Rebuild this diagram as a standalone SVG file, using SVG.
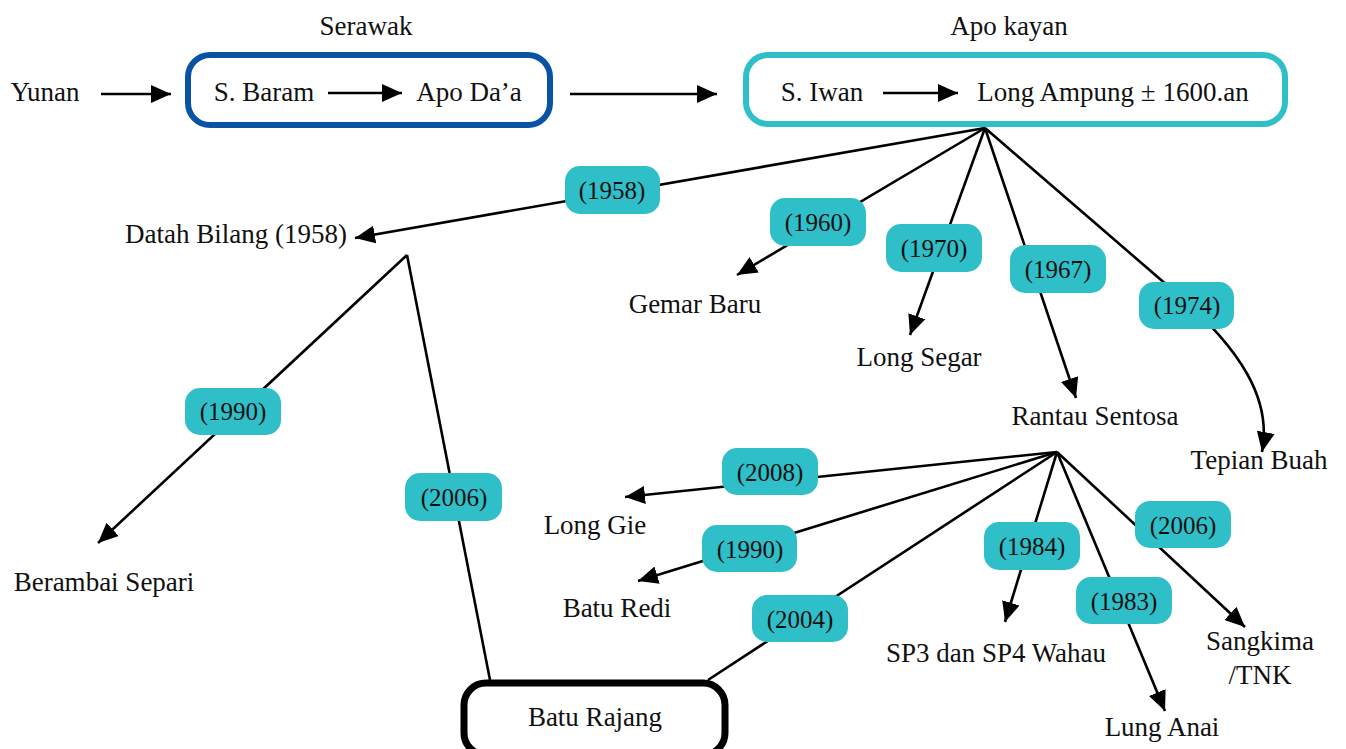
<svg xmlns="http://www.w3.org/2000/svg" width="1346" height="749" viewBox="0 0 1346 749">
  <style>
    text { font-family: "Liberation Serif", "Times New Roman", serif; font-size: 27px; fill: #111; text-anchor: middle; }
    .yr { font-size: 25px; }
    .edge { stroke: #000; stroke-width: 2.6; fill: none; }
    .pill { fill: #2fbfc8; }
  </style>
  <defs>
    <marker id="arrow" markerUnits="userSpaceOnUse" markerWidth="22" markerHeight="18" refX="20" refY="9" orient="auto">
      <path d="M0,0 L20,9 L0,18 z" fill="#000"/>
    </marker>
  </defs>

  <rect width="1346" height="749" fill="#fff"/>

  <!-- frames of the two regions and the end node -->
  <g id="serawak">
    <text x="366" y="35">Serawak</text>
    <rect x="188" y="55" width="362" height="70" rx="22" fill="#fff" stroke="#0a52a4" stroke-width="6"/>
  </g>
  <g id="apo-kayan">
    <text x="1009" y="35">Apo kayan</text>
    <rect x="746" y="55" width="539" height="69" rx="22" fill="#fff" stroke="#2fbfc8" stroke-width="6"/>
  </g>

  <!-- connectors -->
  <g id="connectors">
    <line class="edge" x1="101" y1="94" x2="171" y2="94" marker-end="url(#arrow)"/>
    <line class="edge" x1="328" y1="93" x2="402" y2="93" marker-end="url(#arrow)"/>
    <line class="edge" x1="570" y1="94" x2="717" y2="94" marker-end="url(#arrow)"/>
    <line class="edge" x1="883" y1="93" x2="958" y2="93" marker-end="url(#arrow)"/>

    <!-- from Long Ampung -->
    <line class="edge" x1="985" y1="128" x2="355" y2="238" marker-end="url(#arrow)"/>
    <line class="edge" x1="985" y1="128" x2="737" y2="275" marker-end="url(#arrow)"/>
    <line class="edge" x1="985" y1="128" x2="910" y2="335" marker-end="url(#arrow)"/>
    <line class="edge" x1="985" y1="128" x2="1076" y2="398" marker-end="url(#arrow)"/>
    <path class="edge" d="M985,128 L1175,292 C1242,350 1272,400 1262,452" marker-end="url(#arrow)"/>

    <!-- from Datah Bilang -->
    <line class="edge" x1="407" y1="255" x2="98" y2="543" marker-end="url(#arrow)"/>
    <line class="edge" x1="407" y1="255" x2="490" y2="680"/>

    <!-- from Rantau Sentosa -->
    <line class="edge" x1="1057" y1="452" x2="625" y2="497" marker-end="url(#arrow)"/>
    <line class="edge" x1="1057" y1="452" x2="638" y2="581" marker-end="url(#arrow)"/>
    <line class="edge" x1="1057" y1="452" x2="708" y2="680"/>
    <line class="edge" x1="1057" y1="452" x2="1005" y2="622" marker-end="url(#arrow)"/>
    <line class="edge" x1="1057" y1="452" x2="1165" y2="711" marker-end="url(#arrow)"/>
    <line class="edge" x1="1057" y1="452" x2="1245" y2="627" marker-end="url(#arrow)"/>
  </g>

  <!-- year labels -->
  <g id="year-labels">
    <rect class="pill" x="565" y="166" width="95" height="48" rx="15"/><text class="yr" x="612" y="199">(1958)</text>
    <rect class="pill" x="770" y="198" width="96" height="48" rx="15"/><text class="yr" x="818" y="231">(1960)</text>
    <rect class="pill" x="886" y="224" width="96" height="48" rx="15"/><text class="yr" x="934" y="257">(1970)</text>
    <rect class="pill" x="1010" y="245" width="96" height="48" rx="15"/><text class="yr" x="1058" y="278">(1967)</text>
    <rect class="pill" x="1139" y="282" width="95" height="47" rx="15"/><text class="yr" x="1187" y="314">(1974)</text>
    <rect class="pill" x="185" y="388" width="96" height="47" rx="15"/><text class="yr" x="233" y="420">(1990)</text>
    <rect class="pill" x="405" y="473" width="97" height="48" rx="15"/><text class="yr" x="454" y="506">(2006)</text>
    <rect class="pill" x="722" y="448" width="96" height="47" rx="15"/><text class="yr" x="770" y="481">(2008)</text>
    <rect class="pill" x="702" y="525" width="95" height="47" rx="15"/><text class="yr" x="750" y="558">(1990)</text>
    <rect class="pill" x="752" y="595" width="96" height="47" rx="15"/><text class="yr" x="800" y="628">(2004)</text>
    <rect class="pill" x="984" y="522" width="96" height="48" rx="15"/><text class="yr" x="1032" y="555">(1984)</text>
    <rect class="pill" x="1076" y="577" width="96" height="47" rx="15"/><text class="yr" x="1124" y="610">(1983)</text>
    <rect class="pill" x="1135" y="501" width="96" height="47" rx="15"/><text class="yr" x="1183" y="534">(2006)</text>
  </g>

  <!-- place nodes -->
  <g id="yunan"><text x="45" y="101">Yunan</text></g>
  <g id="s-baram"><text x="264" y="101">S. Baram</text></g>
  <g id="apo-daa"><text x="469" y="101">Apo Da’a</text></g>
  <g id="s-iwan"><text x="822" y="101">S. Iwan</text></g>
  <g id="long-ampung"><text x="1113" y="101">Long Ampung ± 1600.an</text></g>
  <g id="datah-bilang"><text x="236" y="243">Datah Bilang (1958)</text></g>
  <g id="gemar-baru"><text x="695" y="313">Gemar Baru</text></g>
  <g id="long-segar"><text x="919" y="366">Long Segar</text></g>
  <g id="rantau-sentosa"><text x="1095" y="425">Rantau Sentosa</text></g>
  <g id="tepian-buah"><text x="1259" y="469">Tepian Buah</text></g>
  <g id="berambai-separi"><text x="104" y="591">Berambai Separi</text></g>
  <g id="long-gie"><text x="595" y="534">Long Gie</text></g>
  <g id="batu-redi"><text x="617" y="617">Batu Redi</text></g>
  <g id="sp3-sp4-wahau"><text x="996" y="662">SP3 dan SP4 Wahau</text></g>
  <g id="lung-anai"><text x="1162" y="736">Lung Anai</text></g>
  <g id="sangkima">
    <text x="1260" y="650">Sangkima</text>
    <text x="1260" y="684">/TNK</text>
  </g>
  <g id="batu-rajang">
    <rect x="464" y="683" width="261" height="72" rx="22" fill="#fff" stroke="#000" stroke-width="7"/>
    <text x="595" y="726">Batu Rajang</text>
  </g>
</svg>
